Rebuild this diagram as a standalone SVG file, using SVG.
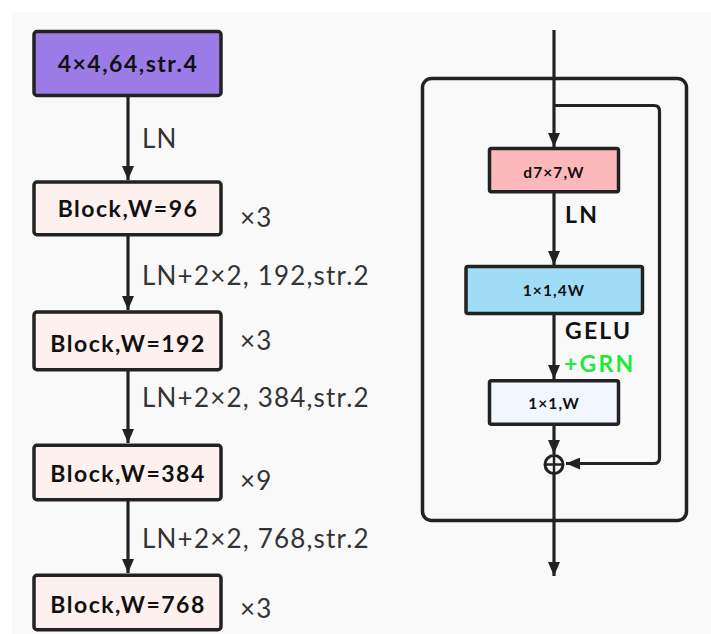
<svg xmlns="http://www.w3.org/2000/svg" width="711" height="634" viewBox="0 0 711 634">
<defs>
<marker id="ah" viewBox="0 0 14 12" refX="14" refY="6" markerWidth="14" markerHeight="12" markerUnits="userSpaceOnUse" orient="auto">
<path d="M0,0 L14,6 L0,12 Z" fill="#222"/>
</marker>
<style>
.box{stroke:#222;stroke-width:3.5}
.bl{font-family:Lato,"Liberation Sans",sans-serif;font-weight:700;font-size:23px;letter-spacing:1.5px;fill:#111;text-anchor:middle}
.sm{font-family:Lato,"Liberation Sans",sans-serif;font-weight:700;font-size:15.5px;letter-spacing:1.1px;fill:#111;text-anchor:middle}
.el{font-family:Lato,"Liberation Sans",sans-serif;font-size:26px;letter-spacing:1.2px;fill:#333}
.rl{font-family:Lato,"Liberation Sans",sans-serif;font-weight:700;font-size:23px;letter-spacing:2.2px;fill:#111}
.ln{fill:none;stroke:#222;stroke-width:3.2}
</style>
</defs>
<rect x="0" y="0" width="711" height="634" fill="#ffffff"/>
<rect x="12" y="12" width="699" height="622" fill="#f9f9f9"/>

<g id="connectors">
<line class="ln" x1="128" y1="97" x2="128" y2="180" marker-end="url(#ah)"/>
<line class="ln" x1="128" y1="236" x2="128" y2="310" marker-end="url(#ah)"/>
<line class="ln" x1="128" y1="371" x2="128" y2="443" marker-end="url(#ah)"/>
<line class="ln" x1="128" y1="501" x2="128" y2="573" marker-end="url(#ah)"/>
<line class="ln" x1="554" y1="30" x2="554" y2="147" marker-end="url(#ah)"/>
<line class="ln" x1="554" y1="193" x2="554" y2="265" marker-end="url(#ah)"/>
<line class="ln" x1="554" y1="315" x2="554" y2="379" marker-end="url(#ah)"/>
<line class="ln" x1="554" y1="426" x2="554" y2="454" marker-end="url(#ah)"/>
<path class="ln" d="M554,105.5 H654 Q659.5,105.5 659.5,111 V458 Q659.5,463.5 654,463.5 H566" marker-end="url(#ah)"/>
<line class="ln" x1="554" y1="474" x2="554" y2="576" marker-end="url(#ah)"/>
</g>

<g id="outer">
<rect x="422.5" y="78.5" width="264" height="442" rx="9" fill="none" stroke="#222" stroke-width="3.5"/>
</g>

<g id="stem">
<rect class="box" x="34" y="31.5" width="187" height="64" rx="3" fill="#9b7ce6"/>
<text class="bl" x="128" y="72">4×4,64,str.4</text>
</g>
<g id="block96">
<rect class="box" x="34" y="182" width="187" height="52.7" rx="3" fill="#fdf1ef"/>
<text class="bl" x="128" y="216.5">Block,W=96</text>
</g>
<g id="block192">
<rect class="box" x="34" y="312" width="187" height="57.7" rx="3" fill="#fdf1ef"/>
<text class="bl" x="128" y="351.5">Block,W=192</text>
</g>
<g id="block384">
<rect class="box" x="34" y="445.3" width="187" height="54.4" rx="3" fill="#fdf1ef"/>
<text class="bl" x="128" y="481.5">Block,W=384</text>
</g>
<g id="block768">
<rect class="box" x="34" y="575.3" width="187" height="54.4" rx="3" fill="#fdf1ef"/>
<text class="bl" x="128" y="613">Block,W=768</text>
</g>

<g id="left-labels">
<text class="el" x="142" y="148">LN</text>
<text class="el" x="142" y="285">LN+2×2, 192,str.2</text>
<text class="el" x="142" y="407">LN+2×2, 384,str.2</text>
<text class="el" x="142" y="548">LN+2×2, 768,str.2</text>
<text class="el" x="240" y="227">×3</text>
<text class="el" x="240" y="350">×3</text>
<text class="el" x="240" y="490">×9</text>
<text class="el" x="240" y="618">×3</text>
</g>

<g id="dwconv">
<rect class="box" x="489.5" y="148.5" width="129" height="43.3" rx="2" fill="#fdb8bc"/>
<text class="sm" x="554" y="177.5">d7×7,W</text>
</g>
<g id="pw1">
<rect class="box" x="466" y="266.5" width="176.5" height="47" rx="2" fill="#a1dcf7"/>
<text class="sm" x="554" y="295.5">1×1,4W</text>
</g>
<g id="pw2">
<rect class="box" x="489.5" y="380.8" width="129" height="43.4" rx="2" fill="#f2f6fe"/>
<text class="sm" x="554" y="409">1×1,W</text>
</g>
<g id="add">
<circle cx="554" cy="464.5" r="9" fill="none" stroke="#222" stroke-width="3"/>
<line x1="545" y1="464.5" x2="563" y2="464.5" stroke="#222" stroke-width="2.5"/>
<line x1="554" y1="455.5" x2="554" y2="473.5" stroke="#222" stroke-width="2.5"/>
</g>
<g id="right-labels">
<text class="rl" x="565" y="222.5">LN</text>
<text class="rl" x="565" y="339">GELU</text>
<text class="rl" x="564" y="371.5" style="fill:#1ee83a">+GRN</text>
</g>
</svg>
